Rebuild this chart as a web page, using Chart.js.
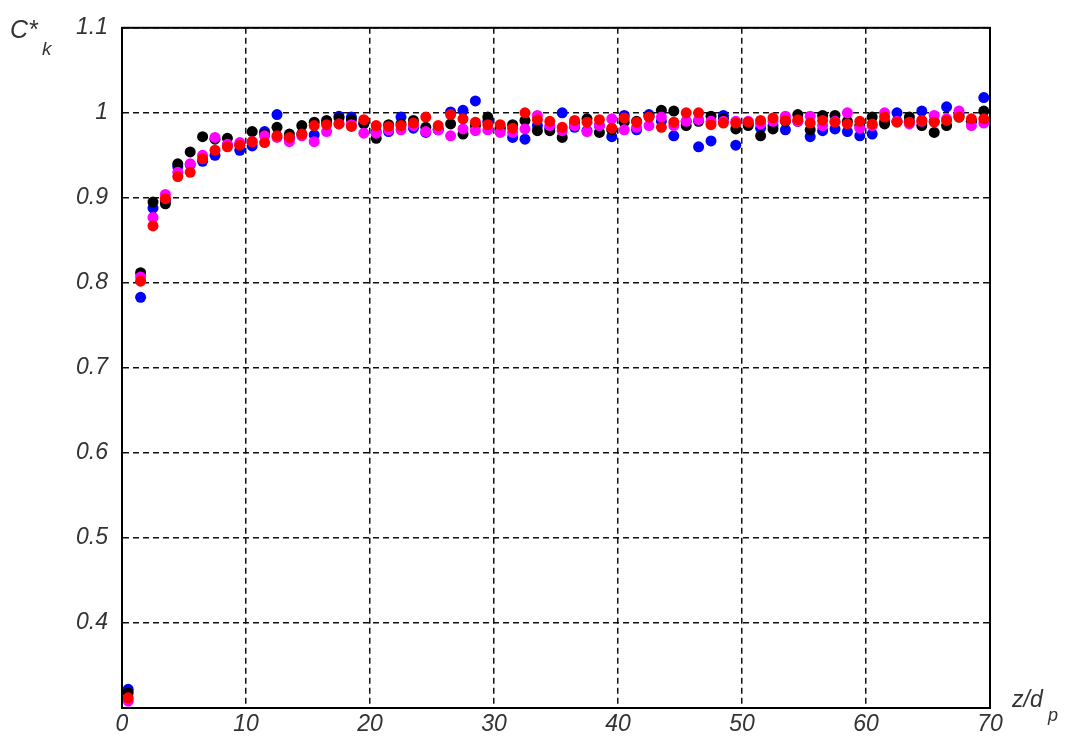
<!DOCTYPE html>
<html>
<head>
<meta charset="utf-8">
<script src="https://cdn.jsdelivr.net/npm/chart.js@4/dist/chart.umd.min.js"></script>
<style>
  html, body { margin: 0; padding: 0; background: #fff; }
  #wrap { width: 1069px; height: 751px; position: relative; }
</style>
</head>
<body>
<div id="wrap"><canvas id="ck"></canvas></div>
<script>
// z/dp positions (one sample per particle diameter)
const zPos = [0.5,1.5,2.5,3.5,4.5,5.5,6.5,7.5,8.5,9.5,10.5,11.5,12.5,13.5,14.5,15.5,16.5,17.5,18.5,19.5,
  20.5,21.5,22.5,23.5,24.5,25.5,26.5,27.5,28.5,29.5,30.5,31.5,32.5,33.5,34.5,35.5,36.5,37.5,38.5,39.5,
  40.5,41.5,42.5,43.5,44.5,45.5,46.5,47.5,48.5,49.5,50.5,51.5,52.5,53.5,54.5,55.5,56.5,57.5,58.5,59.5,
  60.5,61.5,62.5,63.5,64.5,65.5,66.5,67.5,68.5,69.5];

const ckBlack = [0.318,0.812,0.895,0.893,0.940,0.954,0.972,0.969,0.970,0.962,0.978,0.975,0.983,0.975,0.985,0.989,0.991,0.994,0.992,0.988,
  0.970,0.986,0.987,0.991,0.983,0.981,0.987,0.975,0.985,0.995,0.983,0.986,0.991,0.979,0.979,0.971,0.988,0.993,0.977,0.980,
  0.989,0.990,0.996,1.003,1.002,0.985,0.990,0.996,0.993,0.981,0.985,0.973,0.981,0.990,0.998,0.980,0.997,0.997,0.990,0.985,
  0.995,0.987,0.990,0.995,0.985,0.977,0.985,0.995,0.990,1.002];

const ckBlue = [0.322,0.783,0.888,0.897,0.937,0.939,0.943,0.950,0.962,0.956,0.961,0.978,0.998,0.970,0.975,0.974,0.988,0.996,0.995,0.987,
  0.978,0.978,0.995,0.982,0.977,0.980,1.001,1.003,1.014,0.990,0.980,0.971,0.969,0.985,0.982,1.000,0.983,0.979,0.985,0.972,
  0.997,0.980,0.998,0.990,0.973,0.990,0.960,0.967,0.997,0.962,0.987,0.982,0.985,0.980,0.990,0.972,0.979,0.981,0.978,0.973,
  0.975,0.990,1.000,0.990,1.002,0.990,1.007,0.998,0.990,1.018];

const ckMagenta = [0.308,0.807,0.877,0.904,0.930,0.940,0.950,0.971,0.963,0.965,0.966,0.973,0.971,0.966,0.973,0.966,0.978,0.987,0.986,0.976,
  0.976,0.980,0.980,0.985,0.978,0.980,0.973,0.981,0.979,0.980,0.977,0.977,0.981,0.997,0.985,0.979,0.985,0.978,0.985,0.993,
  0.980,0.983,0.985,0.995,0.985,0.990,0.992,0.990,0.990,0.990,0.990,0.987,0.990,0.996,0.990,0.996,0.985,0.990,1.000,0.982,
  0.985,1.000,0.990,0.987,0.990,0.997,0.993,1.002,0.985,0.988];

const ckRed = [0.312,0.802,0.867,0.899,0.925,0.930,0.946,0.956,0.960,0.962,0.966,0.965,0.973,0.971,0.975,0.985,0.986,0.987,0.984,0.992,
  0.985,0.984,0.985,0.988,0.995,0.985,0.998,0.993,0.989,0.986,0.986,0.982,1.000,0.992,0.990,0.983,0.991,0.989,0.992,0.982,
  0.994,0.989,0.995,0.983,0.989,1.000,1.000,0.986,0.988,0.988,0.989,0.991,0.994,0.991,0.992,0.988,0.991,0.989,0.987,0.990,
  0.987,0.995,0.989,0.989,0.991,0.989,0.991,0.995,0.993,0.993];

const xTicks = [0, 10, 20, 30, 40, 50, 60, 70];
const yTicks = [0.4, 0.5, 0.6, 0.7, 0.8, 0.9, 1, 1.1];

const toPoints = arr => arr.map((v, i) => ({ x: zPos[i], y: v }));

function series(label, color, values, order) {
  return {
    label,
    data: toPoints(values),
    showLine: false,
    backgroundColor: color,
    borderColor: color,
    pointRadius: 5.5,
    pointHoverRadius: 5.5,
    pointBorderWidth: 0,
    order,
  };
}

// solid frame + axis titles (C*k and z/dp)
const framePlugin = {
  id: 'frame',
  afterDraw(chart) {
    const { ctx, chartArea: a } = chart;
    ctx.save();
    ctx.strokeStyle = '#000';
    ctx.lineWidth = 2;
    ctx.setLineDash([]);
    ctx.strokeRect(a.left, a.top, a.right - a.left, a.bottom - a.top);

    ctx.fillStyle = '#333';
    ctx.textBaseline = 'alphabetic';
    ctx.textAlign = 'left';
    ctx.font = 'italic 25px "Liberation Sans", Arial, sans-serif';
    ctx.fillText('C*', 10, 38);
    ctx.font = 'italic 19px "Liberation Sans", Arial, sans-serif';
    ctx.fillText('k', 42, 55);

    ctx.font = 'italic 23px "Liberation Sans", Arial, sans-serif';
    ctx.fillText('z/d', 1012, 707);
    ctx.font = 'italic 18px "Liberation Sans", Arial, sans-serif';
    ctx.fillText('p', 1048, 721);
    ctx.restore();
  }
};

const tickFont = { family: '"Liberation Sans", Arial, sans-serif', size: 23, style: 'italic' };

new Chart(document.getElementById('ck'), {
  type: 'scatter',
  data: {
    datasets: [
      series('black', '#000000', ckBlack, 2),
      series('blue', '#0000ff', ckBlue, 3),
      series('magenta', '#ff00ff', ckMagenta, 1),
      series('red', '#ff0000', ckRed, 0),
    ]
  },
  options: {
    responsive: true,
    maintainAspectRatio: false,
    animation: false,
    events: [],
    layout: { padding: { left: 0, right: 79, top: 22, bottom: 0 } },
    plugins: { legend: { display: false }, tooltip: { enabled: false } },
    scales: {
      x: {
        type: 'linear',
        min: 0, max: 70,
        afterBuildTicks: s => { s.ticks = xTicks.map(v => ({ value: v })); },
        afterFit: s => { s.height = 43; },
        grid: { color: '#111', lineWidth: 1.5, drawTicks: false },
        border: { display: true, color: '#000', width: 2, dash: [6, 4] },
        ticks: { color: '#333', font: tickFont, padding: 3, maxRotation: 0 },
      },
      y: {
        type: 'linear',
        min: 0.3, max: 1.1,
        afterBuildTicks: s => { s.ticks = yTicks.map(v => ({ value: v })); },
        afterFit: s => { s.width = 122; },
        grid: { color: '#111', lineWidth: 1.5, drawTicks: false },
        border: { display: true, color: '#000', width: 2, dash: [6, 4] },
        ticks: {
          color: '#333', font: tickFont, padding: 14,
          callback: v => String(Math.round(v * 10) / 10),
        },
      }
    }
  },
  plugins: [framePlugin]
});
</script>
</body>
</html>
